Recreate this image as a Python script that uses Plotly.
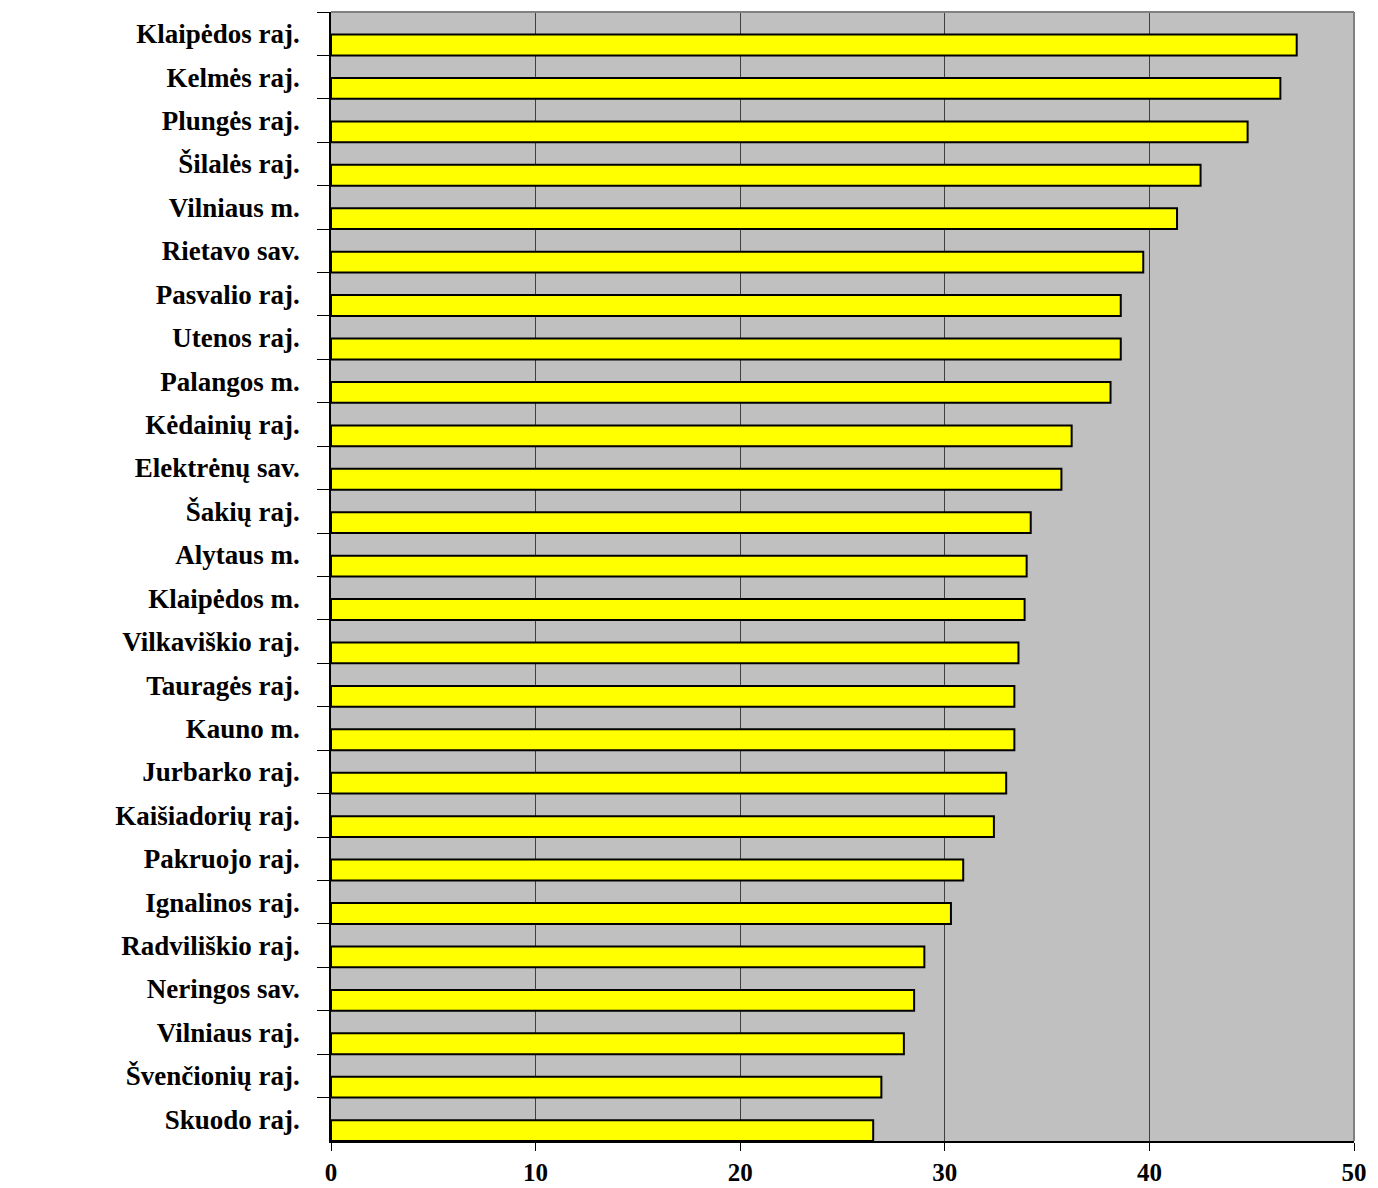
import plotly.graph_objects as go

categories = ["Klaipėdos raj.", "Kelmės raj.", "Plungės raj.", "Šilalės raj.", "Vilniaus m.",
              "Rietavo sav.", "Pasvalio raj.", "Utenos raj.", "Palangos m.", "Kėdainių raj.",
              "Elektrėnų sav.", "Šakių raj.", "Alytaus m.", "Klaipėdos m.", "Vilkaviškio raj.",
              "Tauragės raj.", "Kauno m.", "Jurbarko raj.", "Kaišiadorių raj.", "Pakruojo raj.",
              "Ignalinos raj.", "Radviliškio raj.", "Neringos sav.", "Vilniaus raj.",
              "Švenčionių raj.", "Skuodo raj."]
values = [47.2, 46.4, 44.8, 42.5, 41.35, 39.7, 38.6, 38.6, 38.1, 36.2,
          35.7, 34.2, 34.0, 33.9, 33.6, 33.4, 33.4, 33.0, 32.4, 30.9,
          30.3, 29.0, 28.5, 28.0, 26.9, 26.5]
x_ticks = [0, 10, 20, 30, 40, 50]

font_family = "Liberation Serif, Times New Roman, serif"

fig = go.Figure(go.Bar(
    x=values, y=categories, orientation="h",
    marker=dict(color="#FFFF00", line=dict(color="black", width=2)),
    width=0.48, offset=0.02,
))

fig.update_layout(
    width=1370, height=1180,
    margin=dict(l=323, r=24, t=4, b=47, autoexpand=False),
    paper_bgcolor="white", plot_bgcolor="#C0C0C0",
    showlegend=False,
    font=dict(family=font_family, color="black"),
    shapes=[
        dict(type="line", xref="paper", yref="paper", x0=0, x1=1, y0=1, y1=1,
             line=dict(color="#808080", width=2)),
        dict(type="line", xref="paper", yref="paper", x0=1, x1=1, y0=0, y1=1,
             line=dict(color="#808080", width=2)),
    ],
)
fig.update_xaxes(
    range=[0, 50], tickvals=x_ticks, ticktext=[str(v) for v in x_ticks],
    showgrid=True, gridcolor="#404040", gridwidth=1,
    showline=True, linecolor="black", linewidth=1.5,
    ticks="outside", ticklen=8, tickcolor="black",
    tickfont=dict(family=font_family, size=25, weight="bold"),
    ticklabelstandoff=0, automargin=False,
    zeroline=False, fixedrange=True,
)
fig.update_yaxes(
    autorange="reversed", type="category",
    showgrid=False, showline=True, linecolor="black", linewidth=1.5,
    ticks="outside", ticklen=12, tickcolor="black", tickson="boundaries",
    tickfont=dict(family=font_family, size=27, weight="bold"),
    ticklabelstandoff=24, automargin=False,
)

fig.write_html("out.html")
